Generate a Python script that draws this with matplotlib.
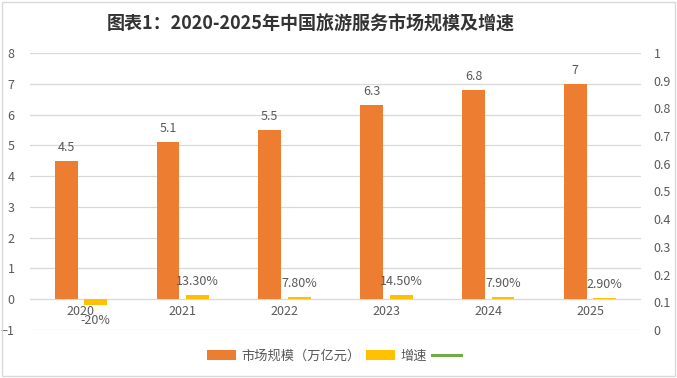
import matplotlib
matplotlib.use("Agg")
import matplotlib.pyplot as plt
from matplotlib.patches import Rectangle
import numpy as np

plt.rcParams['font.family'] = ['Noto Sans CJK SC', 'DejaVu Sans']

years = ["2020", "2021", "2022", "2023", "2024", "2025"]
market_size = [4.5, 5.1, 5.5, 6.3, 6.8, 7.0]
market_labels = ["4.5", "5.1", "5.5", "6.3", "6.8", "7"]
growth = [-0.20, 0.133, 0.078, 0.145, 0.079, 0.029]
growth_labels = ["-20%", "13.30%", "7.80%", "14.50%", "7.90%", "2.90%"]
line_series = []  # third (line) series, no visible data

title = "图表1：2020-2025年中国旅游服务市场规模及增速"
legend_names = ["市场规模（万亿元）", "增速", ""]

ORANGE = "#ED7D31"
YELLOW = "#FFC000"
GREEN = "#70AD47"
TXT = "#595959"
GRID = "#D9D9D9"

fig = plt.figure(figsize=(6.77, 3.78), dpi=100)
ax = fig.add_axes([30/677, 1-330/378, (641-30)/677, (330-53)/378])
ax2 = ax.twinx()

x = np.arange(len(years))
w = 0.225
off = 0.145
b1 = ax.bar(x - off, market_size, w, color=ORANGE, zorder=3)
b2 = ax.bar(x + off, growth, w, color=YELLOW, zorder=3)
l3, = ax2.plot(line_series, line_series, color=GREEN, lw=2.2)

ax.set_ylim(-1, 8)
ax.set_yticks(range(-1, 9))
ax.set_xlim(-0.5, len(years) - 0.5)
rt = np.round(np.arange(0, 1.01, 0.1), 1)
ax2.set_ylim(0, 1)
ax2.set_yticks(rt)
ax2.set_yticklabels(["0" if v == 0 else ("1" if v == 1 else f"{v:.1f}") for v in rt])

ax.grid(axis='y', color=GRID, lw=0.9, zorder=0)
ax.set_axisbelow(True)
for a in (ax, ax2):
    for s in a.spines.values():
        s.set_visible(False)
ax.tick_params(axis='y', length=0, pad=11, labelsize=9, labelcolor=TXT)
ax2.tick_params(axis='y', length=0, pad=9, labelsize=9, labelcolor=TXT)
ax.set_xticks([])

# category labels just below zero line
for xi, yr in zip(x, years):
    ax.annotate(yr, (xi, 0), xytext=(0, -4), textcoords='offset points',
                ha='center', va='top', fontsize=9, color=TXT)

for xi, v, t in zip(x, market_size, market_labels):
    ax.annotate(t, (xi - off, v), xytext=(0, 5), textcoords='offset points',
                ha='center', va='bottom', fontsize=9, color=TXT)
for xi, v, t in zip(x, growth, growth_labels):
    if v >= 0:
        ax.annotate(t, (xi + off, v), xytext=(0, 5), textcoords='offset points',
                    ha='center', va='bottom', fontsize=9, color=TXT)
    else:
        ax.annotate(t, (xi + off, v), xytext=(0, -6.5), textcoords='offset points',
                    ha='center', va='top', fontsize=9, color=TXT)

fig.text(311/677, 1-24/378, title, ha='center', va='center', fontsize=13,
         fontweight='bold', color="#333333")

leg = fig.legend([b1, b2, l3], legend_names, loc='center', bbox_to_anchor=(337/677, 1-356/378),
                 ncol=3, frameon=False, fontsize=9.5, handlelength=2.2, handletextpad=0.4,
                 columnspacing=0.4, labelcolor=TXT)

fig.patches.append(Rectangle((0.003, 0.004), 0.994, 0.99, transform=fig.transFigure,
                             fill=False, edgecolor="#D9D9D9", lw=1))

fig.savefig("out.png", dpi=100)
